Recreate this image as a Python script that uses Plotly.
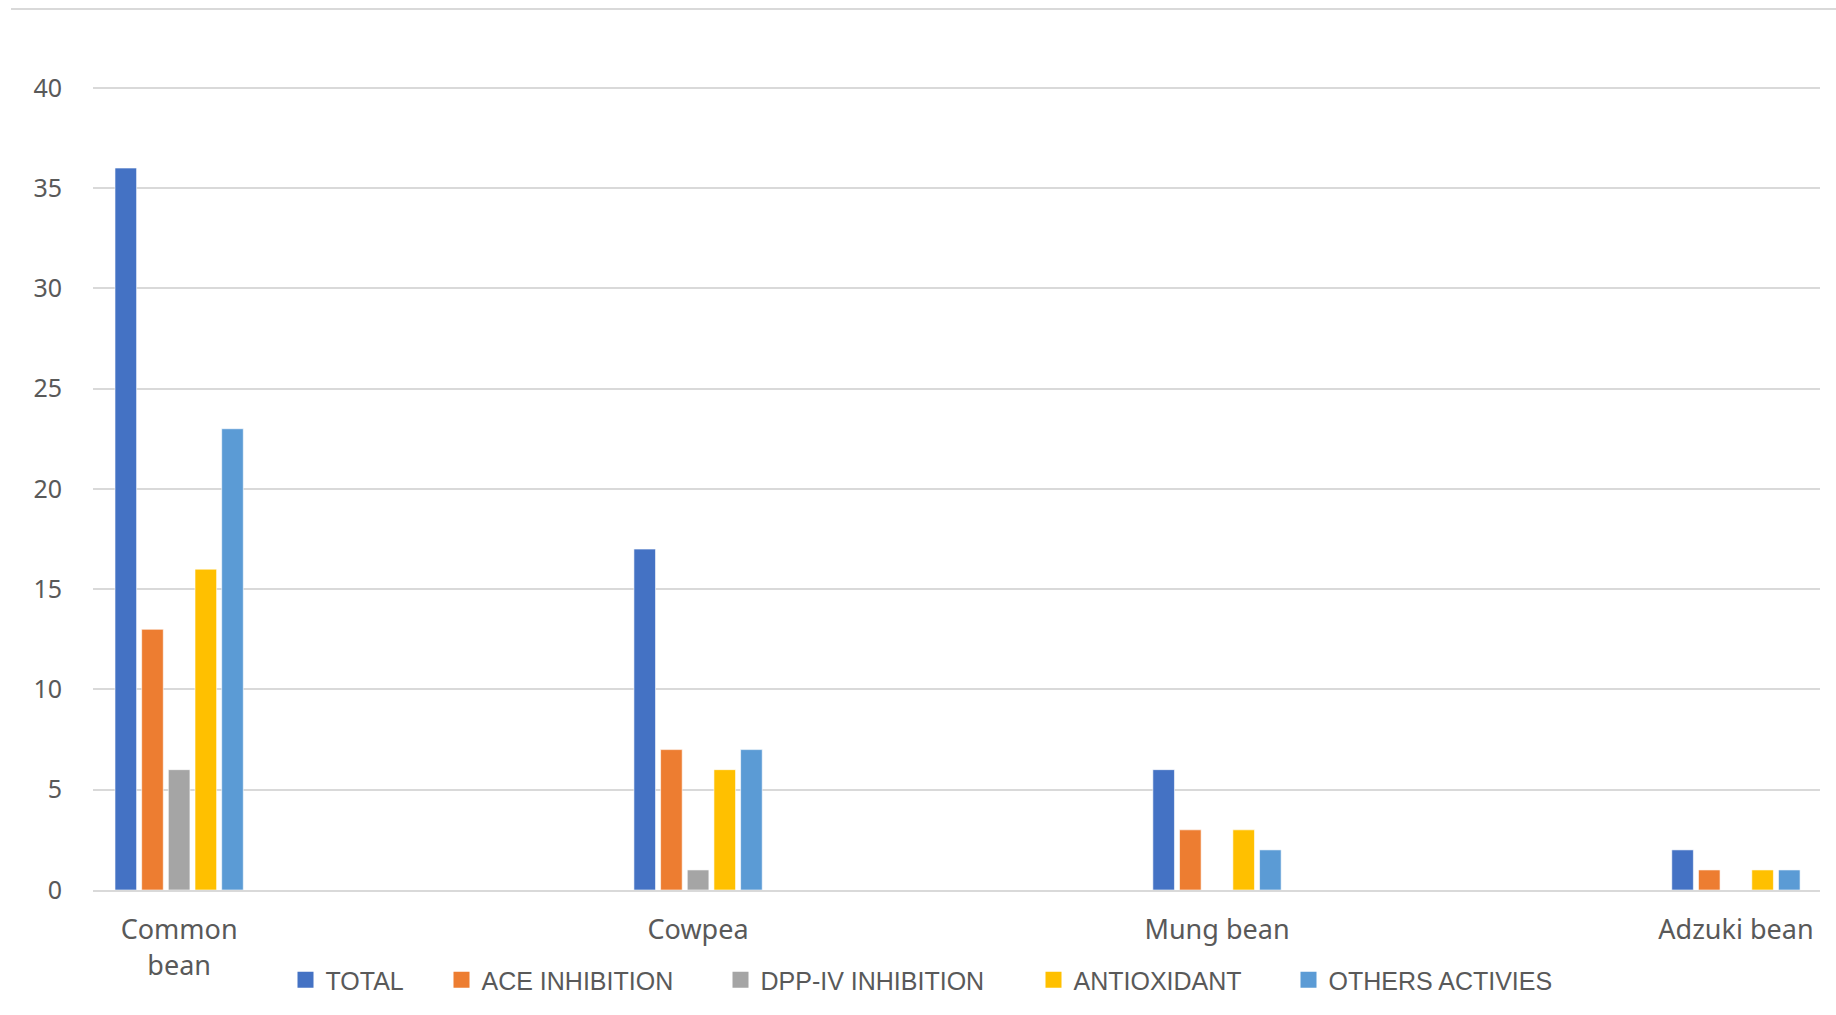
import plotly.graph_objects as go

categories = ["Common<br>bean", "Cowpea", "Mung bean", "Adzuki bean"]
series_names = ["TOTAL", "ACE INHIBITION", "DPP-IV INHIBITION", "ANTIOXIDANT", "OTHERS ACTIVIES"]
total = [36, 17, 6, 2]
ace = [13, 7, 3, 1]
dpp = [6, 1, 0, 0]
antiox = [16, 6, 3, 1]
others = [23, 7, 2, 1]
colors = ["#4472C4", "#ED7D31", "#A5A5A5", "#FFC000", "#5B9BD5"]
y_ticks = [0, 5, 10, 15, 20, 25, 30, 35, 40]

W, H = 1836, 1015
L, R, T, B = 93, 16, 9, 125
PW = W - L - R
PH = H - T - B

# legend marker centres (pixels) for each entry
legend_centres = [305.5, 461.5, 740.5, 1053.5, 1308.5]
legend_centre_y = 980

fig = go.Figure()
legend_ids = ["legend", "legend2", "legend3", "legend4", "legend5"]
for name, vals, col, lid in zip(series_names, [total, ace, dpp, antiox, others], colors, legend_ids):
    fig.add_trace(go.Bar(
        x=list(range(len(categories))), y=vals, name=name, showlegend=False,
        marker=dict(color=col, line=dict(color="rgba(255,255,255,0.6)", width=1)),
    ))
    fig.add_trace(go.Scatter(
        x=[None], y=[None], name=name, mode="markers", legend=lid,
        marker=dict(symbol="square", size=16, color=col),
    ))

legend_font = dict(family="Liberation Sans, Arial, sans-serif", size=25, color="#595959")
legend_layout = {}
for lid, cx in zip(legend_ids, legend_centres):
    legend_layout[lid] = dict(
        orientation="h", x=(cx - 20 - L) / PW, xanchor="left",
        y=-(legend_centre_y - (T + PH)) / PH, yanchor="middle",
        font=legend_font, itemsizing="trace", borderwidth=0,
        bgcolor="rgba(0,0,0,0)",
    )

fig.update_layout(
    width=W, height=H,
    margin=dict(l=L, r=R, t=T, b=B, autoexpand=False),
    paper_bgcolor="white", plot_bgcolor="white",
    barmode="group", bargap=0.743, bargroupgap=0.19,
    font=dict(family="Noto Sans, Open Sans, sans-serif", color="#595959", size=25),
    showlegend=True,
    shapes=[dict(type="line", xref="paper", yref="paper",
                 x0=-(L - 11) / PW, x1=1 + R / PW, y0=1, y1=1,
                 line=dict(color="#d9d9d9", width=2))],
    **legend_layout,
)
fig.update_xaxes(
    tickmode="array", tickvals=list(range(len(categories))), ticktext=categories,
    range=[-0.166, 3.162], showgrid=False, zeroline=False, automargin=False,
    showline=True, linecolor="#d9d9d9", linewidth=2,
    ticks="", tickfont=dict(size=27, color="#595959"), ticklabelstandoff=15,
)
fig.update_yaxes(
    range=[0, 43.93], tickvals=y_ticks, showgrid=True, gridcolor="#d9d9d9", gridwidth=1.5,
    zeroline=False, showline=False, ticks="", automargin=False,
    tickfont=dict(size=25, color="#595959"), ticklabelstandoff=30,
)

fig.write_html("out.html")
